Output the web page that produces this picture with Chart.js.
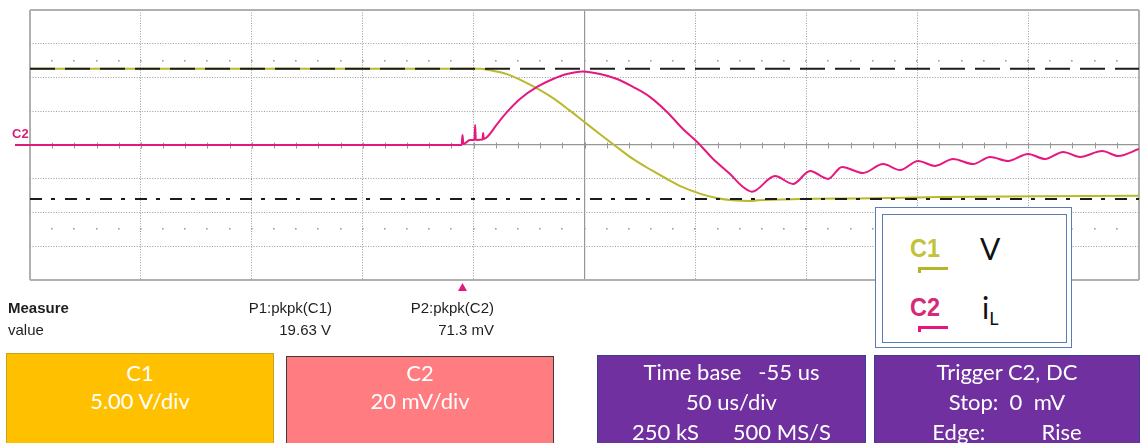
<!doctype html>
<html lang="en">
<head>
<meta charset="utf-8">
<title>Inductor current and voltage step</title>
<style>
  * { margin: 0; padding: 0; }
  body {
    width: 1140px; height: 443px; position: relative; overflow: hidden;
    background: #fff; font-family: "Liberation Sans", Arial, sans-serif;
  }
  .scope { position: absolute; left: 0; top: 0; width: 1140px; height: 443px; }
  .meas { position: absolute; font-size: 15px; line-height: 18px; color: #1e1e1e; white-space: pre; }
  .meas.bold { font-weight: bold; }
  .panel {
    position: absolute; box-sizing: border-box; height: 100px;
    color: #fff; font-family: Lato, "Open Sans", sans-serif; font-size: 22px;
    text-align: center; white-space: pre;
  }
  .c1 { left: 6px; top: 353px; width: 268px; background: #ffc000; border: 1px solid #c9a21c; padding-top: 5px; line-height: 28px; }
  .c2 { left: 286px; top: 356px; width: 268px; background: #ff7c80; border: 1.5px solid #3c3c3c; padding-top: 2px; line-height: 28px; }
  .tb { left: 597px; top: 355px; width: 269px; background: #7030a0; border: 1px solid #3a3f8f; padding-top: 1px; line-height: 30px; }
  .trig { left: 874px; top: 355px; width: 266px; background: #7030a0; border: 1px solid #3a3f8f; padding-top: 1px; line-height: 30px; }
  .legend-outer { position: absolute; left: 875px; top: 207px; width: 197px; height: 141px; box-sizing: border-box; border: 1.5px solid #5b7db3; background: #fff; }
  .legend-inner { position: absolute; left: 882px; top: 214px; width: 185px; height: 129px; box-sizing: border-box; border: 1.5px solid #5b7db3; }
  .tag { position: absolute; font-size: 26px; line-height: 30px; font-weight: bold; transform: scaleX(0.9); transform-origin: left; }
  .bar { position: absolute; height: 3px; width: 30px; }
  .bar::before { content: ""; position: absolute; left: 0; top: 0; width: 3px; height: 6px; background: inherit; }
  .name { position: absolute; font-family: Lato, "Open Sans", sans-serif; font-size: 30px; line-height: 34px; color: #111; }
  .name sub { font-size: 18px; vertical-align: -6px; }
  .c2mark { position: absolute; left: 12px; top: 126px; font-size: 13px; font-weight: bold; color: #d81f78; }
  .c2line { position: absolute; left: 15px; top: 144px; width: 15px; height: 2px; background: #d81f78; }
</style>
</head>
<body>
  <div class="scope"><canvas id="scope"></canvas></div>

  <div class="c2mark">C2</div>
  <div class="c2line"></div>

  <div class="meas bold" style="left:8px; top:299px;">Measure</div>
  <div class="meas" style="left:8px; top:321px;">value</div>
  <div class="meas" style="right:808px; top:299px;">P1:pkpk(C1)</div>
  <div class="meas" style="right:809px; top:321px;">19.63 V</div>
  <div class="meas" style="right:646px; top:299px;">P2:pkpk(C2)</div>
  <div class="meas" style="right:646px; top:321px;">71.3 mV</div>

  <div class="panel c1">C1
5.00 V/div</div>
  <div class="panel c2">C2
20 mV/div</div>
  <div class="panel tb">Time base   -55 us
50 us/div
250 kS      500 MS/S</div>
  <div class="panel trig">Trigger C2, DC
Stop:  0  mV
Edge:          Rise</div>

  <div class="legend-outer"></div>
  <div class="legend-inner"></div>
  <div class="tag" style="left:910px; top:233px; color:#c3c33a;">C1</div>
  <div class="bar" style="left:918px; top:267px; background:#b5b52a;"></div>
  <div class="name" style="left:980px; top:231px;">V</div>
  <div class="tag" style="left:910px; top:292px; color:#d42a78;">C2</div>
  <div class="bar" style="left:918px; top:326px; background:#e8157f;"></div>
  <div class="name" style="left:982px; top:290px;">i<sub>L</sub></div>

  <script src="https://cdn.jsdelivr.net/npm/chart.js"></script>
  <script>
    // C1: output voltage (V), sampled along the trace
    const c1Time  = [-195, 8, 12, 20, 27, 34, 41, 48, 55, 62, 70, 77, 85, 92, 99, 107, 115, 122, 130, 133, 152, 184, 215, 260, 305];
    const c1Volts = [11.3, 11.3, 11.1, 10.5, 9.5, 8.3, 6.9, 5.2, 3.4, 1.6, -0.4, -2.1, -3.7, -5.0, -6.2, -7.2, -7.9, -8.2, -8.3, -8.2, -8.0, -7.9, -7.7, -7.6, -7.5];

    // C2: inductor current probe (mV)
    const c2Time = [-195, -0.4, 0, 0.4, 3.4, 5.4, 5.7, 6.0, 9.0, 9.3, 9.6, 11.1, 15.6, 20.1, 25.9, 33.6, 40.8, 47.1, 54.3,
                    62.0, 69.7, 76.9, 84.6, 92.2, 99.4, 105.8, 113.0, 120.6, 126.5, 130.5, 140.9, 149.0, 156.7, 164.8,
                    171.1, 180.6, 189.6, 197.3, 205.4, 213.1, 221.2, 230.2, 237.9, 246.0, 255.0, 262.7, 270.8, 278.4,
                    288.4, 295.6, 305];
    const c2MilliVolts = [0, 0, 5.9, 0.6, 3.0, 3.0, 11.9, 3.0, 3.2, 7.1, 3.6, 4.7, 12.4, 19.6, 27.3, 34.4, 39.1, 42.1, 43.6,
                          42.1, 39.1, 34.4, 28.4, 19.6, 9.5, 1.8, -8.3, -17.2, -24.9, -27.7, -18.4, -23.1, -15.4, -20.1,
                          -13.0, -16.6, -11.3, -14.8, -9.5, -12.4, -8.3, -11.3, -7.1, -9.5, -5.3, -8.3, -4.1, -7.1,
                          -3.6, -6.5, -2.4];

    // cursor levels on C1 (V) and trigger time (us)
    const cursorHigh = 11.3;
    const cursorLow = -8.0;
    const triggerTime = 0;

    // screen: 10 x 50 us, 8 x 5 V (C1) / 20 mV (C2)
    const timeMin = -195, timeMax = 305, timePerDiv = 50;
    const timeCenter = (timeMin + timeMax) / 2;
    const timeDivs = [];
    for (let i = 0; i <= 10; i++) timeDivs.push(timeMin + i * timePerDiv);

    const C1_COLOR = '#b9b92c';
    const C2_COLOR = '#e5187f';

    const pts = (xs, ys) => xs.map((x, i) => ({ x, y: ys[i] }));

    const edgeColor = '#b0b0b0', centerColor = '#969696', dotColor = '#9a9a9a';

    function gridStyle(edgeA, edgeB, center) {
      return {
        grid: {
          drawTicks: false,
          color: c => (c.tick.value === edgeA || c.tick.value === edgeB) ? edgeColor
                    : (c.tick.value === center ? centerColor : dotColor),
          lineWidth: c => (c.tick.value === edgeA || c.tick.value === edgeB) ? 2
                    : (c.tick.value === center ? 1.2 : 1)
        },
        border: {
          display: false,
          dash: c => (c.tick.value === edgeA || c.tick.value === edgeB || c.tick.value === center) ? [] : [1, 1.6]
        }
      };
    }

    // centre-line ticks, dot rows and trigger marker
    const graticule = {
      id: 'graticule',
      beforeDatasetsDraw(chart) {
        const { ctx, scales: { x, y } } = chart;
        ctx.save();
        ctx.strokeStyle = centerColor;
        ctx.lineWidth = 1;
        const y0 = Math.round(y.getPixelForValue(0)) + 0.5;
        for (let i = 1; i < 50; i++) {
          const px = Math.round(x.getPixelForValue(timeMin + i * timePerDiv / 5)) + 0.5;
          ctx.beginPath();
          ctx.moveTo(px, y0 - 3);
          ctx.lineTo(px, y0 + 3);
          ctx.stroke();
        }
        ctx.fillStyle = '#9c9c9c';
        for (const v of [12.5, -12.5]) {
          const py = Math.round(y.getPixelForValue(v));
          for (let i = 1; i < 50; i++) {
            const px = Math.round(x.getPixelForValue(timeMin + i * timePerDiv / 5));
            ctx.fillRect(px - 1, py - 1, 1.6, 1.6);
          }
        }
        ctx.restore();
      },
      afterDraw(chart) {
        const { ctx, chartArea, scales: { x } } = chart;
        const px = x.getPixelForValue(triggerTime);
        const top = chartArea.bottom + 3;
        ctx.save();
        ctx.fillStyle = C2_COLOR;
        ctx.beginPath();
        ctx.moveTo(px, top);
        ctx.lineTo(px - 4.5, top + 8);
        ctx.lineTo(px + 4.5, top + 8);
        ctx.closePath();
        ctx.fill();
        ctx.restore();
      }
    };

    new Chart(document.getElementById('scope'), {
      type: 'line',
      data: {
        datasets: [
          {
            label: 'cursor high',
            data: pts([timeMin, timeMax], [cursorHigh, cursorHigh]),
            yAxisID: 'y', borderColor: '#1c1c1c', borderWidth: 2,
            borderDash: [25, 10], order: 0
          },
          {
            label: 'cursor low',
            data: pts([timeMin, timeMax], [cursorLow, cursorLow]),
            yAxisID: 'y', borderColor: '#1c1c1c', borderWidth: 2,
            borderDash: [12, 9, 4, 10], order: 0
          },
          {
            label: 'iL',
            data: pts(c2Time, c2MilliVolts),
            yAxisID: 'y2', borderColor: C2_COLOR, borderWidth: 2,
            cubicInterpolationMode: 'monotone', order: 1
          },
          {
            label: 'V',
            data: pts(c1Time, c1Volts),
            yAxisID: 'y', borderColor: C1_COLOR, borderWidth: 2,
            cubicInterpolationMode: 'monotone', order: 2
          }
        ]
      },
      options: {
        responsive: true,
        maintainAspectRatio: false,
        animation: false,
        elements: { point: { radius: 0 } },
        layout: { padding: { left: 30, top: 10, right: 1, bottom: 163 } },
        plugins: { legend: { display: false }, tooltip: { enabled: false } },
        scales: {
          x: {
            type: 'linear', min: timeMin, max: timeMax,
            ticks: { display: false },
            afterBuildTicks: axis => { axis.ticks = timeDivs.map(v => ({ value: v })); },
            ...gridStyle(timeMin, timeMax, timeCenter)
          },
          y: {
            min: -20, max: 20,
            ticks: { display: false, stepSize: 5 },
            ...gridStyle(-20, 20, 0)
          },
          y2: { min: -80, max: 80, display: false }
        }
      },
      plugins: [graticule]
    });
  </script>
</body>
</html>
